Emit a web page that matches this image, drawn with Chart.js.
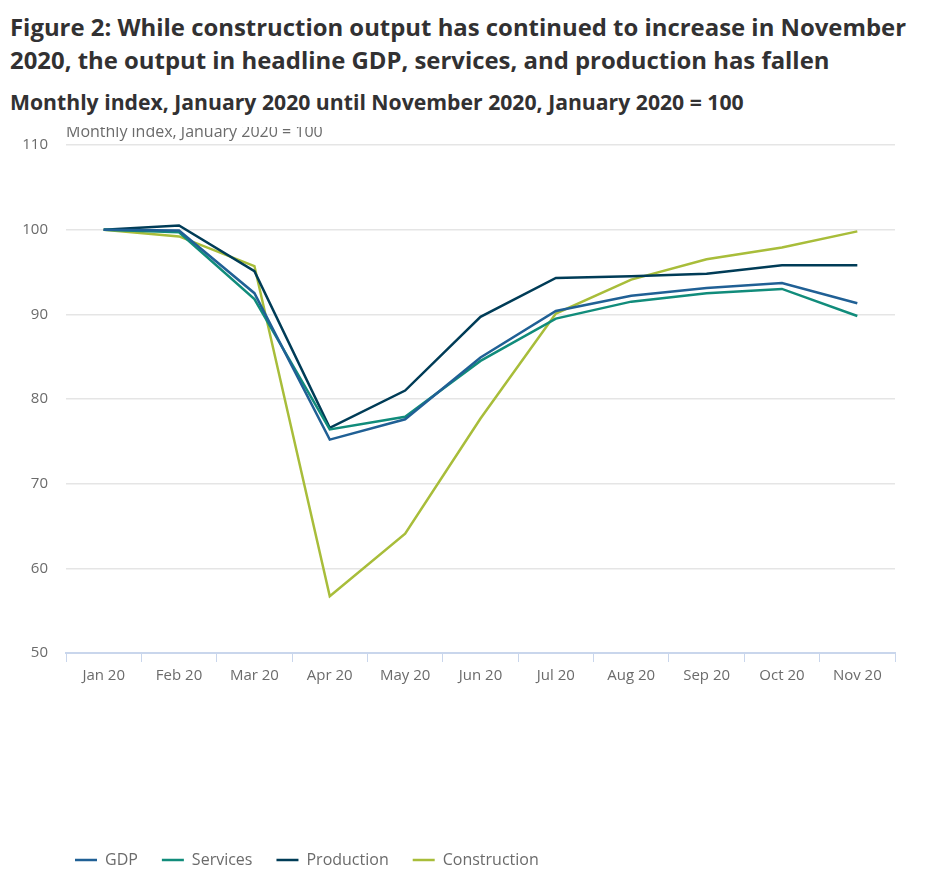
<!DOCTYPE html>
<html>
<head>
<meta charset="utf-8">
<script src="https://cdn.jsdelivr.net/npm/chart.js@4"></script>
<style>
  body { margin: 0; background: #fff; font-family: "Open Sans", sans-serif; color: #323132; }
  #title { position: absolute; left: 10px; top: 10px; margin: 0; font-size: 23.9px; line-height: 33px; font-weight: 700; width: 910px; }
  #subtitle { position: absolute; left: 10px; top: 88px; margin: 0; font-size: 21.2px; line-height: 28px; font-weight: 700; }
  #wrap { position: absolute; left: 0; top: 118px; width: 928px; height: 768px; }
</style>
</head>
<body>
<h1 id="title">Figure 2: While construction output has continued to increase in November 2020, the output in headline GDP, services, and production has fallen</h1>
<h2 id="subtitle">Monthly index, January 2020 until November 2020, January 2020 = 100</h2>
<div id="wrap"><canvas id="chart"></canvas></div>
<script>
// Months shown along the x axis
const months = ["Jan 20", "Feb 20", "Mar 20", "Apr 20", "May 20", "Jun 20",
                "Jul 20", "Aug 20", "Sep 20", "Oct 20", "Nov 20"];

// Index values, January 2020 = 100
const gdp          = [100, 99.9, 92.5, 75.2, 77.6, 84.9, 90.4, 92.2, 93.1, 93.7, 91.3];
const services     = [100, 99.7, 91.8, 76.4, 77.9, 84.5, 89.5, 91.5, 92.5, 93.0, 89.8];
const production   = [100, 100.5, 95.1, 76.6, 81.0, 89.7, 94.3, 94.5, 94.8, 95.8, 95.8];
const construction = [100, 99.2, 95.7, 56.7, 64.1, 77.7, 90.1, 94.1, 96.5, 97.9, 99.8];

const yTicks = [50, 60, 70, 80, 90, 100, 110];

const greyText = '#6b6b6b';

// Draws the little axis caption, cut off at the top like in the original
const captionPlugin = {
  id: 'caption',
  afterDraw(chart) {
    const ctx = chart.ctx;
    ctx.save();
    ctx.beginPath();
    ctx.rect(0, 9, chart.width, 20);
    ctx.clip();
    ctx.font = '16px "Open Sans"';
    ctx.fillStyle = greyText;
    ctx.textBaseline = 'alphabetic';
    ctx.fillText('Monthly index, January 2020 = 100', 66, 19);
    ctx.restore();
  }
};

// Push the legend in so it lines up under the plot
const legendShift = {
  id: 'legendShift',
  afterLayout(chart) {
    const lg = chart.legend;
    const dx = 51;
    lg.left += dx;
    lg.right += dx;
    lg.legendHitBoxes.forEach(b => { b.left += dx; });
  }
};

function series(label, data, color) {
  return {
    label: label,
    data: data,
    borderColor: color,
    backgroundColor: color,
    borderWidth: 2.5,
    pointRadius: 0,
    pointHoverRadius: 0,
    tension: 0,
    fill: false
  };
}

new Chart(document.getElementById('chart'), {
  type: 'line',
  data: {
    labels: months,
    datasets: [
      series('GDP', gdp, '#206095'),
      series('Services', services, '#118c7b'),
      series('Production', production, '#003c57'),
      series('Construction', construction, '#a8bd3a')
    ]
  },
  options: {
    responsive: true,
    maintainAspectRatio: false,
    animation: false,
    layout: { padding: { top: 7, right: 33, bottom: 8, left: 0 } },
    plugins: {
      tooltip: { enabled: false },
      legend: {
        position: 'bottom',
        align: 'start',
        labels: {
          usePointStyle: true,
          pointStyle: 'line',
          pointStyleWidth: 22,
          boxHeight: 16,
          padding: 24,
          color: greyText,
          font: { family: '"Open Sans"', size: 16 }
        }
      }
    },
    scales: {
      x: {
        offset: true,
        border: { display: true, color: '#c9d6ec', width: 2 },
        grid: { offset: true, drawOnChartArea: false, color: '#c9d6ec', tickLength: 9 },
        ticks: { color: greyText, padding: 5, maxRotation: 0, font: { family: '"Open Sans"', size: 15 } },
        afterFit: (scale) => { scale.height = 175; }
      },
      y: {
        min: 50,
        max: 110,
        afterBuildTicks: (scale) => { scale.ticks = yTicks.map(v => ({ value: v })); },
        border: { display: false },
        grid: { color: '#e5e5e5', drawTicks: false, lineWidth: 1.5 },
        ticks: { color: greyText, padding: 18, font: { family: '"Open Sans"', size: 15 } },
        afterFit: (scale) => { scale.width = 66; }
      }
    }
  },
  plugins: [captionPlugin, legendShift]
});
</script>
</body>
</html>
